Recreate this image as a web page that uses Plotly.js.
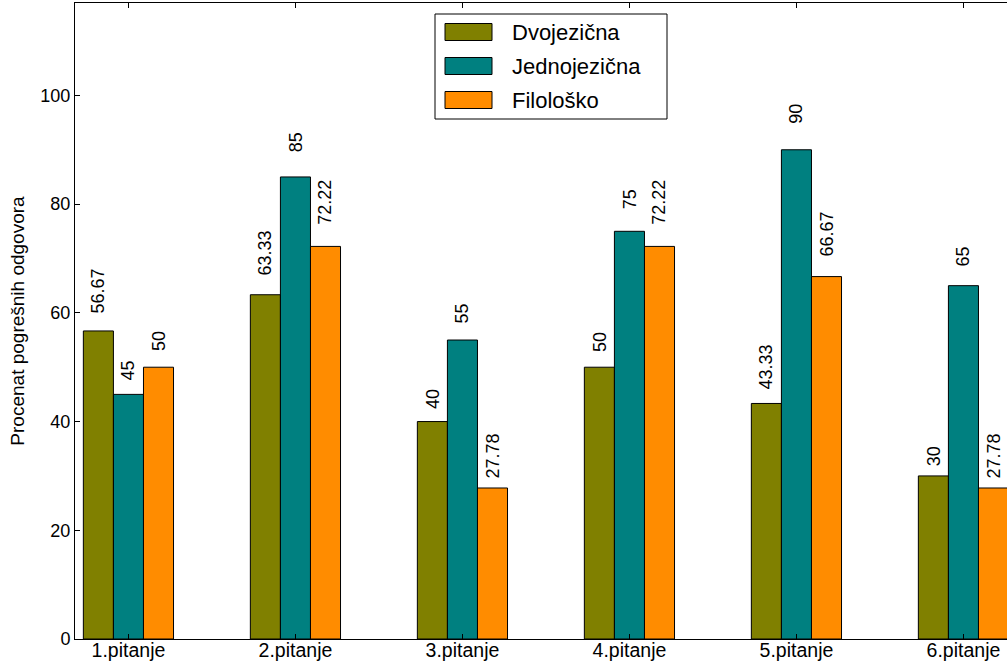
<!DOCTYPE html>
<html>
<head>
<meta charset="utf-8">
<script src="https://cdn.plot.ly/plotly-3.0.1.min.js"></script>
<style>html,body{margin:0;padding:0;background:#fff;overflow:hidden}#chart{width:1007px;height:662px}</style>
</head>
<body>
<div id="chart"></div>
<script>
const categories = ['1.pitanje', '2.pitanje', '3.pitanje', '4.pitanje', '5.pitanje', '6.pitanje'];
const seriesNames = ['Dvojezična', 'Jednojezična', 'Filološko'];
const dvojezicna = [56.67, 63.33, 40, 50, 43.33, 30];
const jednojezicna = [45, 85, 55, 75, 90, 65];
const filolosko = [50, 72.22, 27.78, 72.22, 66.67, 27.78];
const yTickVals = [0, 20, 40, 60, 80, 100];

const seriesValues = [dvojezicna, jednojezicna, filolosko];
const colors = ['#808000', '#008080', '#ff8c00'];
const barWidth = 0.18;
const FONT = 'Liberation Sans, Arial, sans-serif';

// plot area in pixels
const L = 75, R = 1007, T = 3, B = 639, W = 1007, H = 662;
const px = x => (x - L) / (R - L);
const py = y => (B - y) / (B - T);

const idx = categories.map((c, i) => i);
const traces = seriesValues.map((vals, s) => ({
  type: 'bar',
  name: seriesNames[s],
  x: idx.map(i => i + barWidth * s + barWidth / 2),
  y: vals,
  width: barWidth,
  marker: {color: colors[s], line: {color: '#000', width: 1}},
  showlegend: false,
  hoverinfo: 'skip'
}));

const annotations = [];
seriesValues.forEach((vals, s) => {
  vals.forEach((v, i) => {
    annotations.push({
      x: i + barWidth * s + barWidth / 2, y: v * 1.05, xref: 'x', yref: 'y',
      text: String(v), showarrow: false, textangle: -90,
      xanchor: 'center', yanchor: 'bottom',
      font: {family: FONT, size: 18, color: '#000'}
    });
  });
});

// custom legend (matplotlib style)
const shapes = [{
  type: 'rect', xref: 'paper', yref: 'paper',
  x0: px(435), x1: px(667), y0: py(14), y1: py(119),
  line: {color: '#000', width: 1}, fillcolor: '#fff', layer: 'above'
}];
seriesNames.forEach((n, s) => {
  const yc = 32 + s * 34;
  shapes.push({
    type: 'rect', xref: 'paper', yref: 'paper',
    x0: px(445), x1: px(492), y0: py(yc - 8.5), y1: py(yc + 8.5),
    line: {color: '#000', width: 1}, fillcolor: colors[s], layer: 'above'
  });
  annotations.push({
    xref: 'paper', yref: 'paper', x: px(510), y: py(yc),
    xanchor: 'left', yanchor: 'middle', showarrow: false,
    text: n, font: {family: FONT, size: 22, color: '#000'}
  });
});

const layout = {
  width: W, height: H,
  margin: {l: L, r: W - R, t: T, b: H - B, pad: 0},
  paper_bgcolor: '#fff', plot_bgcolor: '#fff',
  font: {family: FONT, size: 18, color: '#000'},
  xaxis: {
    range: [-0.05, -0.05 + (R - L) / 167],
    tickvals: idx.map(i => i + barWidth * 1.5),
    ticktext: categories,
    ticks: 'inside', ticklen: 5, tickcolor: '#000', tickwidth: 1,
    ticklabelstandoff: -6,
    showline: true, linecolor: '#000', linewidth: 1, mirror: 'ticks',
    showgrid: false, zeroline: false,
    tickfont: {family: FONT, size: 19.5, color: '#000'}
  },
  yaxis: {
    range: [0, 117],
    tickvals: yTickVals,
    ticks: 'inside', ticklen: 5, tickcolor: '#000', tickwidth: 1,
    showline: true, linecolor: '#000', linewidth: 1,
    showgrid: false, zeroline: false,
    tickfont: {family: FONT, size: 18, color: '#000'},
    title: {text: 'Procenat pogrešnih odgovora', standoff: 10, font: {family: FONT, size: 19, color: '#000'}}
  },
  bargap: 0,
  barmode: 'overlay',
  showlegend: false,
  shapes: shapes,
  annotations: annotations
};

Plotly.newPlot('chart', traces, layout, {displayModeBar: false, staticPlot: true});
</script>
</body>
</html>
